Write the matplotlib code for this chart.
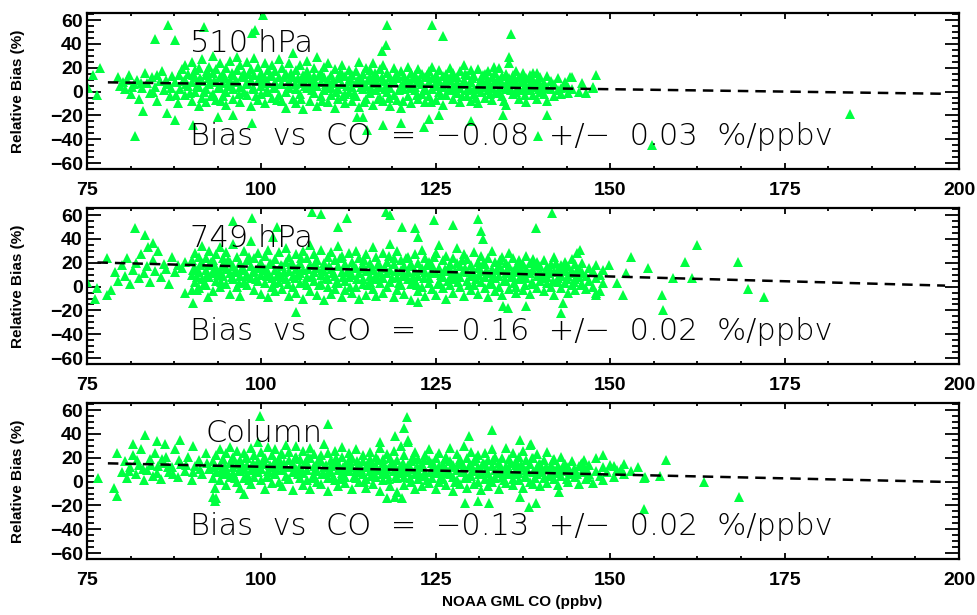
import numpy as np
import matplotlib.pyplot as plt
from matplotlib.ticker import MultipleLocator

# Satellite CO relative bias vs NOAA GML aircraft CO, one panel per level
levels = ['510 hPa', '749 hPa', 'Column']
slopes = [-0.08, -0.16, -0.13]
slope_errs = [0.03, 0.02, 0.02]
intercepts = [14.0, 32.5, 25.5]
fit_start = [78.0, 76.5, 78.0]
fit_end = 198.0

# (CO ppbv, relative bias %) pairs
pts_510 = [
    (75.1, 3), (75.9, 14), (76.4, -3), (76.9, 20), (79.5, 12), (79.8, 5),
    (80.2, 8), (80.5, 2), (81.0, 14), (81.3, -2), (81.8, 6), (82.2, 10),
    (82.5, -6), (82.9, 3), (83.3, 16), (83.6, 7), (84.0, -1), (84.3, 12),
    (84.7, 4), (85.1, -8), (85.4, 9), (85.8, 17), (86.1, 1), (86.5, 6),
    (86.9, -4), (87.2, 13), (87.6, 8), (88.0, -10), (88.3, 2), (88.6, 19),
    (89.0, 10), (89.0, -3), (89.0, 22), (89.5, 5), (89.5, 15),
    (90.0, -8), (90.0, 8), (90.0, 25), (90.5, 0), (90.5, 18), (90.5, 12),
    (91.0, 4), (91.0, -12), (91.0, 20), (91.5, 9), (91.5, 27), (91.5, -5),
    (92.0, 14), (92.0, 2), (92.0, -9), (92.5, 21), (92.5, 6), (92.5, 11),
    (93.0, -2), (93.0, 16), (93.0, 30), (93.5, 8), (93.5, -7), (93.5, 19),
    (94.0, 12), (94.0, 3), (94.0, 24), (94.5, -4), (94.5, 15), (94.5, 7),
    (95.0, 20), (95.0, 0), (95.0, -11), (95.5, 10), (95.5, 26), (95.5, 5),
    (96.0, -6), (96.0, 14), (96.0, 2), (96.5, 18), (96.5, 8), (96.5, 29),
    (97.0, 4), (97.0, -9), (97.0, 22), (97.5, 12), (97.5, 0), (97.5, 16),
    (98.0, 7), (98.0, -3), (98.0, 25), (98.5, 19), (98.5, 10), (98.5, -12),
    (99.0, 2), (99.0, 14), (99.0, 28), (99.5, -7), (99.5, 9), (99.5, 21),
    (100.0, 16), (100.0, 5), (100.0, -2), (100.5, 11), (100.5, 24), (100.5, -10),
    (101.0, 0), (101.0, 18), (101.0, 7), (101.5, 13), (101.5, -5), (101.5, 22),
    (102.0, 8), (102.0, 3), (102.0, 17), (102.5, -3), (102.5, 27), (102.5, 12),
    (103.0, 6), (103.0, -8), (103.0, 20), (103.5, 15), (103.5, 0), (103.5, -14),
    (104.0, 9), (104.0, 24), (104.0, 4), (104.5, -6), (104.5, 12), (104.5, 32),
    (105.0, 18), (105.0, 2), (105.0, -10), (105.5, 7), (105.5, 22), (105.5, -2),
    (106.0, 14), (106.0, -15), (106.0, 10), (106.5, 3), (106.5, 26), (106.5, 17),
    (107.0, -8), (107.0, 11), (107.0, 6), (107.5, 20), (107.5, -1), (107.5, 13),
    (108.0, 5), (108.0, 29), (108.0, -12), (108.5, 16), (108.5, 8), (108.5, -4),
    (109.0, 1), (109.0, 21), (109.0, 12), (109.5, -9), (109.5, 10), (109.5, 24),
    (110.0, 14), (110.0, 4), (110.0, -3), (110.5, 7), (110.5, 19), (110.5, -14),
    (111.0, 11), (111.0, -6), (111.0, 2), (111.5, 22), (111.5, 6), (111.5, 15),
    (112.0, -2), (112.0, 13), (112.0, -10), (112.5, 9), (112.5, 18), (112.5, 0),
    (113.0, 4), (113.0, -8), (113.0, 14), (113.5, 17), (113.5, 7), (113.5, -4),
    (114.0, 11), (114.0, 25), (114.0, -13), (114.5, 2), (114.5, 15), (114.5, 8),
    (115.0, -6), (115.0, 20), (115.0, 5), (115.5, 12), (115.5, -1), (115.5, 18),
    (116.0, 7), (116.0, -11), (116.0, 24), (116.5, 14), (116.5, 1), (116.5, 10),
    (117.0, -5), (117.0, 19), (117.0, 4), (117.5, 9), (117.5, 22), (117.5, -8),
    (118.0, 16), (118.0, 0), (118.0, 6), (118.5, 3), (118.5, 12), (118.5, -12),
    (119.0, 20), (119.0, 8), (119.0, -3), (119.5, 11), (119.5, -7), (119.5, 15),
    (120.0, 5), (120.0, 17), (120.0, -14), (120.5, 13), (120.5, 2), (120.5, 9),
    (121.0, -4), (121.0, 10), (121.0, 21), (121.5, 7), (121.5, -10), (121.5, 16),
    (122.0, 1), (122.0, 14), (122.0, 4), (122.5, 10), (122.5, -6), (122.5, 19),
    (123.0, 6), (123.0, 15), (123.0, -2), (123.5, -9), (123.5, 3), (123.5, 12),
    (124.0, 17), (124.0, 8), (124.0, -4), (124.5, 2), (124.5, 11), (124.5, 21),
    (125.0, -7), (125.0, 6), (125.0, 14), (125.5, 9), (125.5, 18), (125.5, 0),
    (126.0, 4), (126.0, -11), (126.0, 13), (126.5, 15), (126.5, 7), (126.5, -3),
    (127.0, 1), (127.0, 20), (127.0, 10), (127.5, -6), (127.5, 5), (127.5, 16),
    (128.0, 12), (128.0, -1), (128.0, 8), (128.5, 3), (128.5, 17), (128.5, -9),
    (129.0, 10), (129.0, 6), (129.0, 22), (129.5, -4), (129.5, 14), (129.5, 1),
    (130.0, 8), (130.0, -8), (130.0, 18), (130.5, 13), (130.5, 2), (130.5, -2),
    (131.0, 5), (131.0, 19), (131.0, -10), (131.5, 11), (131.5, 0), (131.5, 7),
    (132.0, -5), (132.0, 15), (132.0, 4), (132.5, 9), (132.5, 1), (132.5, 17),
    (133.0, 3), (133.0, 12), (133.0, -7), (133.5, 16), (133.5, 6), (133.5, -1),
    (134.0, 0), (134.0, 10), (134.0, 20), (134.5, 7), (134.5, -4), (134.5, 13),
    (135.0, 2), (135.0, 15), (135.0, -11), (135.5, 11), (135.5, 4), (135.5, 24),
    (136.0, -2), (136.0, 8), (136.0, 14), (136.5, 6), (136.5, 17), (136.5, 0),
    (137.0, 12), (137.0, -6), (137.0, 3), (137.5, 1), (137.5, 9), (137.5, 16),
    (138.0, -9), (138.0, 5), (138.0, 11), (138.5, 14), (138.5, 2), (138.5, 7),
    (139.0, 4), (139.0, -3), (139.0, 10), (139.5, 9), (139.5, 16), (139.5, -6),
    (140.0, 0), (140.0, 6), (140.0, 12), (140.5, 7), (140.5, -2), (140.5, 3),
    (141.0, 13), (141.0, 4), (141.0, -8), (141.5, 2), (141.5, 9),
    (142.0, 6), (142.0, -4), (142.5, 11), (142.5, 1), (143.0, 3), (143.0, -2),
    (143.5, 8), (143.5, 5), (144.0, -1), (144.0, 4), (144.5, 2), (144.5, 12),
    (145.5, 0), (146.0, 7), (146.5, -1), (147.5, 4), (147.9, 14), (147.6, 3),
    # scattered outliers
    (86.6, 56), (91.8, 54), (84.8, 44), (87.6, 43), (99.1, 52), (98.7, 49),
    (100.3, 64), (118.0, 56), (117.8, 39), (117.3, 34), (124.4, 56), (126.0, 47),
    (135.8, 48), (135.5, 29), (133.3, 21), (144.3, 12), (138.9, 16),
    (81.9, -37), (83.0, -16), (86.5, -18), (87.6, -24), (90.2, -28), (93.8, -21),
    (96.0, -20), (98.7, -26), (113.7, -21), (114.5, -21), (115.2, -32),
    (117.5, -28), (120.0, -26), (123.3, -30), (124.0, -23), (125.4, -20),
    (130.0, -25), (134.7, -20), (141.0, -20), (139.7, -37), (156.0, -45),
    (184.4, -19),
]

# extra points filling the dense core of the 510 hPa cloud
core_510 = [
    (80.75, 10), (81.5, 4), (82.7, 7), (84.5, 0), (85.0, 14), (86.3, 10),
    (87.0, 3), (87.8, -3), (88.8, 9), (88.2, 14),
    (89.25, 6), (89.75, -1), (90.25, 14), (90.75, 5), (91.25, 11), (91.75, 0),
    (92.25, 17), (92.75, -4), (93.25, 9), (93.75, 3), (94.25, -8), (94.75, 11),
    (95.25, 5), (95.75, 16), (96.25, 8), (96.75, -2), (97.25, 13), (97.75, 6),
    (98.25, 15), (98.75, 3), (99.25, -4), (99.75, 11), (100.25, 8), (100.75, 1),
    (101.25, 13), (101.75, 4), (102.25, -7), (102.75, 6), (103.25, 12), (103.75, 3),
    (104.25, 16), (104.75, 6), (105.25, 11), (105.75, -6), (106.25, 5), (106.75, 12),
    (107.25, 1), (107.75, 8), (108.25, 14), (108.75, -8), (109.25, 6), (109.75, 3),
    (110.25, 9), (110.75, 0), (111.25, 16), (111.75, -4), (112.25, 5), (112.75, 11),
    (113.25, -2), (113.75, 9), (114.25, 4), (114.75, -9), (115.25, 10), (115.75, 3),
    (116.25, 16), (116.75, -6), (117.25, 12), (117.75, 2), (118.25, -5), (118.75, 9),
    (119.25, 14), (119.75, 1), (120.25, -8), (120.75, 6), (121.25, 3), (121.75, 11),
    (122.25, -3), (122.75, 8), (123.25, 1), (123.75, 14), (124.25, -9), (124.75, 5),
    (125.25, 10), (125.75, -3), (126.25, 8), (126.75, 1), (127.25, 13), (127.75, 2),
    (128.25, 5), (128.75, -4), (129.25, 15), (129.75, 4), (130.25, 11), (130.75, -5),
    (131.25, 2), (131.75, 14), (132.25, 8), (132.75, -2), (133.25, 6), (133.75, 10),
    (134.25, 4), (134.75, -8), (135.25, 8), (135.75, 1), (136.25, 11), (136.75, 4),
    (137.25, 8), (137.75, -3), (138.25, 1), (138.75, 10), (139.25, 6), (139.75, 2),
]

pts_749 = [
    (75.0, 4), (76.1, -10), (76.4, -1), (77.9, -7), (77.9, 24), (78.5, -3),
    (79.0, 12), (79.5, 5), (80.0, 18), (80.4, 9), (80.8, 24), (81.2, 2),
    (81.6, 14), (82.0, 20), (82.4, 7), (82.8, 27), (83.2, 11), (83.6, 17),
    (84.0, 4), (84.4, 22), (84.8, 13), (85.2, 30), (85.6, 8), (86.0, 19),
    (86.4, 15), (86.8, 2), (87.2, 25), (87.6, 12), (88.1, 18), (88.6, 16),
    (89.1, 21), (81.9, 49), (83.3, 43), (84.5, 37), (83.8, 33),
    (90.0, 10), (90.0, 22), (90.0, -3), (90.5, 16), (90.5, 4), (90.5, 28),
    (91.0, 12), (91.0, 25), (91.0, -1), (91.5, 20), (91.5, 6), (91.5, 34),
    (92.0, 14), (92.0, 1), (92.0, 24), (92.5, 8), (92.5, 30), (92.5, 18),
    (93.0, 22), (93.0, -4), (93.0, 11), (93.5, 5), (93.5, 16), (93.5, 27),
    (94.0, 13), (94.0, 33), (94.0, 0), (94.5, 19), (94.5, 9), (94.5, 24),
    (95.0, 2), (95.0, 15), (95.0, 29), (95.5, 11), (95.5, 21), (95.5, -6),
    (96.0, 17), (96.0, 6), (96.0, 36), (96.5, 25), (96.5, 12), (96.5, 0),
    (97.0, 9), (97.0, 20), (97.0, -8), (97.5, 14), (97.5, 30), (97.5, 4),
    (98.0, 22), (98.0, 1), (98.0, 10), (98.5, 7), (98.5, 17), (98.5, 38),
    (99.0, -3), (99.0, 24), (99.0, 13), (99.5, 16), (99.5, 5), (99.5, 28),
    (100.0, 10), (100.0, 20), (100.0, -6), (100.5, 26), (100.5, 3), (100.5, 15),
    (101.0, 12), (101.0, -9), (101.0, 31), (101.5, 19), (101.5, 7), (101.5, 0),
    (102.0, 23), (102.0, 14), (102.0, -4), (102.5, 4), (102.5, 29), (102.5, 11),
    (103.0, 17), (103.0, -2), (103.0, 8), (103.5, 21), (103.5, 6), (103.5, 32),
    (104.0, -8), (104.0, 13), (104.0, 25), (104.5, 9), (104.5, 0), (104.5, 18),
    (105.0, 27), (105.0, 15), (105.0, -5), (105.5, 3), (105.5, 20), (105.5, 11),
    (106.0, 14), (106.0, -10), (106.0, 30), (106.5, 8), (106.5, 24), (106.5, 1),
    (107.0, 18), (107.0, -4), (107.0, 35), (107.5, 12), (107.5, 27), (107.5, 5),
    (108.0, -7), (108.0, 16), (108.0, 22), (108.5, 10), (108.5, 2), (108.5, 31),
    (109.0, 20), (109.0, -11), (109.0, 13), (109.5, 6), (109.5, 25), (109.5, 0),
    (110.0, 15), (110.0, -6), (110.0, 29), (110.5, 22), (110.5, 9), (110.5, -2),
    (111.0, 3), (111.0, 17), (111.0, 34), (111.5, 12), (111.5, -9), (111.5, 26),
    (112.0, 19), (112.0, 5), (112.0, -3), (112.5, 8), (112.5, 28), (112.5, 14),
    (113.0, -5), (113.0, 21), (113.0, 10), (113.5, 16), (113.5, 0), (113.5, 30),
    (114.0, 24), (114.0, 11), (114.0, -10), (114.5, 6), (114.5, 18), (114.5, 2),
    (115.0, 13), (115.0, -7), (115.0, 27), (115.5, 20), (115.5, 4), (115.5, 9),
    (116.0, -2), (116.0, 15), (116.0, 33), (116.5, 10), (116.5, 25), (116.5, -8),
    (117.0, 17), (117.0, 3), (117.0, 12), (117.5, 28), (117.5, -5), (117.5, 7),
    (118.0, 11), (118.0, 21), (118.0, 0), (118.5, 4), (118.5, 14), (118.5, 36),
    (119.0, 19), (119.0, -9), (119.0, 24), (119.5, 8), (119.5, 30), (119.5, -3),
    (120.0, 14), (120.0, 1), (120.0, 22), (120.5, -6), (120.5, 17), (120.5, 9),
    (121.0, 25), (121.0, 6), (121.0, 12), (121.5, 2), (121.5, 19), (121.5, -11),
    (122.0, 13), (122.0, 27), (122.0, 5), (122.5, 9), (122.5, -4), (122.5, 20),
    (123.0, 16), (123.0, 0), (123.0, 31), (123.5, -8), (123.5, 12), (123.5, 24),
    (124.0, 7), (124.0, 21), (124.0, 3), (124.5, 18), (124.5, -2), (124.5, 14),
    (125.0, 11), (125.0, 28), (125.0, -7), (125.5, 4), (125.5, 16), (125.5, 35),
    (126.0, 22), (126.0, 8), (126.0, -1), (126.5, -10), (126.5, 13), (126.5, 26),
    (127.0, 15), (127.0, 1), (127.0, 19), (127.5, 6), (127.5, 24), (127.5, -5),
    (128.0, 20), (128.0, 10), (128.0, 32), (128.5, 0), (128.5, 17), (128.5, 8),
    (129.0, 13), (129.0, -8), (129.0, 27), (129.5, 23), (129.5, 5), (129.5, 12),
    (130.0, -3), (130.0, 18), (130.0, 9), (130.5, 10), (130.5, 29), (130.5, 1),
    (131.0, 16), (131.0, -6), (131.0, 21), (131.5, 4), (131.5, 13), (131.5, 26),
    (132.0, 19), (132.0, -1), (132.0, 8), (132.5, 11), (132.5, 24), (132.5, -9),
    (133.0, 2), (133.0, 15), (133.0, 30), (133.5, 21), (133.5, 7), (133.5, -4),
    (134.0, 9), (134.0, 18), (134.0, 0), (134.5, 14), (134.5, -7), (134.5, 25),
    (135.0, 5), (135.0, 20), (135.0, 11), (135.5, 17), (135.5, -2), (135.5, 28),
    (136.0, 24), (136.0, 8), (136.0, 13), (136.5, 0), (136.5, 16), (136.5, -5),
    (137.0, 12), (137.0, 22), (137.0, 6), (137.5, 19), (137.5, -3), (137.5, 9),
    (138.0, 7), (138.0, 26), (138.0, 15), (138.5, -6), (138.5, 11), (138.5, 20),
    (139.0, 14), (139.0, 2), (139.0, 23), (139.5, 21), (139.5, 9), (139.5, -1),
    (140.0, 5), (140.0, 17), (140.0, 12), (140.5, 10), (140.5, 22), (140.5, -4),
    (141.0, 16), (141.0, 3), (141.0, 8), (141.5, 0), (141.5, 19), (141.5, 13),
    (142.0, 12), (142.0, 25), (142.0, -7), (142.5, 7), (142.5, 15), (142.5, 4),
    (143.0, 18), (143.0, -1), (143.0, 10), (143.5, 3), (143.5, 21), (143.5, 14),
    (144.0, 9), (144.0, -5), (144.0, 17), (144.5, 13), (144.5, 1), (144.5, 23),
    (145.0, 6), (145.0, 19), (145.0, -3), (145.5, 15), (145.5, 8), (145.5, 11),
    (146.0, 2), (146.0, 12), (146.0, 20), (146.5, 9), (146.5, -2),
    (147.0, 16), (147.0, 5), (147.5, 0), (147.5, 13), (148.0, 7), (148.0, 18),
    (148.5, -4), (148.5, 10), (149.0, 3), (149.0, 14),
    # scattered outliers
    (89.1, -5), (90.8, -3), (92.4, -9), (90.2, -14), (96.0, 55), (98.7, 58),
    (101.7, 42), (102.3, 50), (104.9, -21), (107.3, 63), (108.5, 61),
    (111.0, 50), (112.3, 58), (117.8, 63), (118.5, 60), (120.2, 50), (122.0, 49),
    (122.5, 42), (124.7, 56), (127.4, 52), (131.1, 57), (131.5, 47), (131.8, 40),
    (139.3, 49), (141.6, 62), (145.7, 31), (145.3, 28), (122.5, -13),
    (134.7, -16), (135.3, -18), (137.9, -16), (143.2, -14), (142.9, -22),
    (147.9, -5), (147.9, -7),
    (149.8, 18), (153.0, 25), (152.2, 11), (151.0, 3), (151.8, -7), (155.4, 16),
    (157.4, -7), (157.5, -20), (159.0, 7), (160.7, 21), (161.7, 7), (162.5, 35),
    (168.3, 21), (169.7, -2), (172.0, -9),
]

core_749 = [
    (90.25, 14), (90.75, 8), (91.25, 18), (91.75, 2), (92.25, 10), (92.75, 21),
    (93.25, 15), (93.75, 10), (94.25, 4), (94.75, 17), (95.25, 22), (95.75, 8),
    (96.25, 13), (96.75, 3), (97.25, 16), (97.75, 9), (98.25, 25), (98.75, 12),
    (99.25, 6), (99.75, 19), (100.25, 14), (100.75, 9), (101.25, 20), (101.75, 3),
    (102.25, 9), (102.75, 18), (103.25, 12), (103.75, 2), (104.25, 19), (104.75, 7),
    (105.25, 10), (105.75, 24), (106.25, 4), (106.75, 15), (107.25, 9), (107.75, 20),
    (108.25, 1), (108.75, 14), (109.25, 7), (109.75, 17), (110.25, 11), (110.75, 3),
    (111.25, 24), (111.75, 8), (112.25, 12), (112.75, 0), (113.25, 17), (113.75, 6),
    (114.25, 16), (114.75, 22), (115.25, 1), (115.75, 14), (116.25, 6), (116.75, 19),
    (117.25, 8), (117.75, 16), (118.25, 26), (118.75, 7), (119.25, 13), (119.75, 3),
    (120.25, 10), (120.75, 24), (121.25, 17), (121.75, 8), (122.25, 1), (122.75, 14),
    (123.25, 7), (123.75, 18), (124.25, 11), (124.75, 25), (125.25, 2), (125.75, 10),
    (126.25, 15), (126.75, 5), (127.25, 9), (127.75, 13), (128.25, 4), (128.75, 22),
    (129.25, 16), (129.75, 1), (130.25, 14), (130.75, 6), (131.25, 10), (131.75, 19),
    (132.25, 13), (132.75, 3), (133.25, 9), (133.75, 14), (134.25, 22), (134.75, 5),
    (135.25, 14), (135.75, 8), (136.25, 3), (136.75, 20), (137.25, 15), (137.75, 1),
    (138.25, 11), (138.75, 4), (139.25, 18), (139.75, 13), (140.25, 7), (140.75, 15),
    (141.25, 11), (141.75, 5), (142.25, 20), (142.75, 9), (143.25, 13), (143.75, 6),
    (144.25, 11), (144.75, 4), (145.25, 14), (145.75, 1),
]

pts_col = [
    (76.6, 3), (79.3, 24), (78.9, -5), (79.3, -12),
    (80.0, 8), (80.4, 17), (80.8, 3), (81.2, 12), (81.6, 22), (82.0, 6),
    (82.4, 14), (82.8, 27), (83.2, 1), (83.6, 10), (84.0, 19), (84.4, 5),
    (84.8, 24), (85.2, 13), (85.6, 2), (86.0, 16), (86.4, 21), (86.8, 8),
    (87.2, 12), (87.6, 27), (88.0, 4), (88.5, 15), (89.0, 9), (89.5, 21),
    (90.0, 1), (90.5, 13), (91.0, 18), (91.5, 6), (92.0, 24), (92.5, 11),
    (93.0, 3), (93.0, 17), (93.5, 8), (93.5, 22),
    (94.0, 14), (94.0, 1), (94.0, 27), (94.5, 19), (94.5, 6),
    (95.0, 10), (95.0, -3), (95.0, 24), (95.5, 16), (95.5, 4), (95.5, 29),
    (96.0, 7), (96.0, 21), (96.0, 12), (96.5, 0), (96.5, 15), (96.5, 26),
    (97.0, 18), (97.0, 9), (97.0, -5), (97.5, 11), (97.5, 24), (97.5, 3),
    (98.0, 20), (98.0, 6), (98.0, 14), (98.5, -2), (98.5, 28), (98.5, 10),
    (99.0, 13), (99.0, 4), (99.0, 22), (99.5, 17), (99.5, 8), (99.5, 33),
    (100.0, 1), (100.0, 25), (100.0, 11), (100.5, 15), (100.5, -6), (100.5, 20),
    (101.0, 9), (101.0, 29), (101.0, 4), (101.5, 22), (101.5, 12), (101.5, -1),
    (102.0, 6), (102.0, 17), (102.0, 27), (102.5, 14), (102.5, 0), (102.5, 19),
    (103.0, -4), (103.0, 23), (103.0, 10), (103.5, 12), (103.5, 31), (103.5, 5),
    (104.0, 18), (104.0, 2), (104.0, 25), (104.5, 8), (104.5, 15), (104.5, -7),
    (105.0, 21), (105.0, 11), (105.0, 30), (105.5, 3), (105.5, 19), (105.5, 13),
    (106.0, 26), (106.0, 7), (106.0, -3), (106.5, 10), (106.5, 16), (106.5, 1),
    (107.0, 20), (107.0, -6), (107.0, 28), (107.5, 5), (107.5, 13), (107.5, 23),
    (108.0, 15), (108.0, 0), (108.0, 9), (108.5, -2), (108.5, 22), (108.5, 17),
    (109.0, 12), (109.0, 32), (109.0, 6), (109.5, 24), (109.5, 3), (109.5, -8),
    (110.0, 8), (110.0, 18), (110.0, 13), (110.5, 1), (110.5, 26), (110.5, 15),
    (111.0, 16), (111.0, -4), (111.0, 10), (111.5, 21), (111.5, 7), (111.5, 29),
    (112.0, 4), (112.0, 14), (112.0, -1), (112.5, 18), (112.5, 9), (112.5, 24),
    (113.0, -6), (113.0, 12), (113.0, 20), (113.5, 10), (113.5, 27), (113.5, 3),
    (114.0, 15), (114.0, 0), (114.0, 8), (114.5, 22), (114.5, 6), (114.5, 17),
    (115.0, 2), (115.0, 12), (115.0, -5), (115.5, 19), (115.5, 25), (115.5, 9),
    (116.0, 7), (116.0, -2), (116.0, 14), (116.5, 13), (116.5, 21), (116.5, 4),
    (117.0, -8), (117.0, 10), (117.0, 28), (117.5, 16), (117.5, 1), (117.5, 19),
    (118.0, 6), (118.0, 23), (118.0, 11), (118.5, 20), (118.5, -4), (118.5, 13),
    (119.0, 9), (119.0, 15), (119.0, 26), (119.5, 3), (119.5, 18), (119.5, -9),
    (120.0, 12), (120.0, 30), (120.0, 7), (120.5, 22), (120.5, 4), (120.5, -3),
    (121.0, 14), (121.0, 8), (121.0, 33), (121.5, 0), (121.5, 17), (121.5, 11),
    (122.0, 25), (122.0, 6), (122.0, -6), (122.5, 9), (122.5, 19), (122.5, 2),
    (123.0, 15), (123.0, -4), (123.0, 12), (123.5, 5), (123.5, 22), (123.5, 8),
    (124.0, 18), (124.0, -1), (124.0, 27), (124.5, 11), (124.5, 3), (124.5, 16),
    (125.0, -6), (125.0, 20), (125.0, 7), (125.5, 13), (125.5, 0), (125.5, 24),
    (126.0, 2), (126.0, 15), (126.0, 9), (126.5, 21), (126.5, -3), (126.5, 11),
    (127.0, 6), (127.0, 17), (127.0, 28), (127.5, 14), (127.5, -8), (127.5, 4),
    (128.0, 10), (128.0, 23), (128.0, 1), (128.5, -2), (128.5, 16), (128.5, 19),
    (129.0, 8), (129.0, 12), (129.0, 30), (129.5, 20), (129.5, 3), (129.5, -5),
    (130.0, 5), (130.0, 14), (130.0, 25), (130.5, 17), (130.5, -2), (130.5, 9),
    (131.0, 0), (131.0, 22), (131.0, 12), (131.5, 11), (131.5, 6), (131.5, -7),
    (132.0, 24), (132.0, 15), (132.0, 2), (132.5, 7), (132.5, -4), (132.5, 18),
    (133.0, 13), (133.0, 27), (133.0, 0), (133.5, 3), (133.5, 10), (133.5, 21),
    (134.0, 16), (134.0, -6), (134.0, 8), (134.5, 9), (134.5, 20), (134.5, 4),
    (135.0, -1), (135.0, 13), (135.0, 28), (135.5, 19), (135.5, 6), (135.5, 11),
    (136.0, 2), (136.0, 24), (136.0, -3), (136.5, 14), (136.5, 9), (136.5, 17),
    (137.0, 7), (137.0, 21), (137.0, 1), (137.5, 26), (137.5, -5), (137.5, 12),
    (138.0, 10), (138.0, 4), (138.0, 18), (138.5, 0), (138.5, 15), (138.5, 31),
    (139.0, 20), (139.0, 8), (139.0, -2), (139.5, 6), (139.5, 12), (139.5, 23),
    (140.0, 15), (140.0, -4), (140.0, 9), (140.5, 3), (140.5, 18),
    (141.0, 11), (141.0, 25), (141.0, -1), (141.5, 7), (141.5, 14),
    (142.0, 19), (142.0, 2), (142.0, 10), (142.5, 13), (142.5, -3),
    (143.0, 5), (143.0, 21), (143.5, 9), (143.5, 15), (144.0, 0), (144.0, 12),
    (144.5, 17), (144.5, 6), (145.0, 4), (145.0, 10), (145.5, 13), (145.5, -2),
    (146.0, 8), (146.0, 16), (146.5, 2), (146.5, 11), (147.0, 14), (147.0, 6),
    (147.5, -1), (148.0, 9), (148.0, 20), (148.5, 5), (149.0, 12), (149.0, 1),
    (149.5, 8), (150.0, 14), (150.5, 4), (151.0, 10), (152.0, 15), (152.0, 6),
    (153.0, 9), (154.0, 12), (155.0, 4),
    # scattered outliers
    (93.0, -13), (93.4, -16), (93.4, -5), (93.5, -14), (97.5, -10), (99.8, 55),
    (83.3, 39), (81.6, 32), (88.3, 35), (85.0, 34), (86.2, 32), (90.2, 30),
    (109.6, 48), (120.9, 54), (120.4, 45), (121.0, 35), (117.0, 33), (119.2, 38),
    (118.0, -14), (119.2, -13), (120.2, -14), (129.7, 38), (133.1, 43),
    (137.1, 35), (138.6, 32), (129.2, -18), (131.1, -16), (132.6, -18),
    (137.1, -13), (138.3, -21), (139.3, -18), (142.6, -9), (146.2, 18),
    (149.0, 22), (150.5, 13), (151.5, 11), (154.8, 3), (157.2, 5), (158.0, 18),
    (163.4, 0), (168.4, -13), (154.8, -23),
]

core_col = [
    (81.0, 9), (82.2, 18), (83.0, 11), (84.2, 14), (85.0, 7), (85.8, 19),
    (86.6, 12), (87.4, 6), (88.2, 18), (89.2, 14), (90.2, 8), (91.2, 11),
    (92.2, 16), (93.2, 12),
    (94.25, 10), (94.75, 13), (95.25, 6), (95.75, 19), (96.25, 3), (96.75, 9),
    (97.25, 14), (97.75, 20), (98.25, 1), (98.75, 16), (99.25, 8), (99.75, 12),
    (100.25, 18), (100.75, 5), (101.25, 14), (101.75, 8), (102.25, 10), (102.75, 23),
    (103.25, 16), (103.75, 2), (104.25, 12), (104.75, 20), (105.25, 6), (105.75, 9),
    (106.25, 16), (106.75, 21), (107.25, 3), (107.75, 10), (108.25, 19), (108.75, 6),
    (109.25, 14), (109.75, 9), (110.25, 4), (110.75, 20), (111.25, 2), (111.75, 12),
    (112.25, 9), (112.75, 15), (113.25, 4), (113.75, 17), (114.25, 11), (114.75, 0),
    (115.25, 16), (115.75, 5), (116.25, 10), (116.75, 18), (117.25, 6), (117.75, 12),
    (118.25, 2), (118.75, 16), (119.25, 5), (119.75, 11), (120.25, 16), (120.75, 10),
    (121.25, 3), (121.75, 21), (122.25, 13), (122.75, 5), (123.25, 18), (123.75, 1),
    (124.25, 8), (124.75, 14), (125.25, 10), (125.75, 4), (126.25, 19), (126.75, 7),
    (127.25, 12), (127.75, 0), (128.25, 15), (128.75, 8), (129.25, 3), (129.75, 13),
    (130.25, 9), (130.75, 20), (131.25, 6), (131.75, 16), (132.25, 10), (132.75, 3),
    (133.25, 18), (133.75, 7), (134.25, 12), (134.75, 1), (135.25, 8), (135.75, 16),
    (136.25, 6), (136.75, 11), (137.25, 14), (137.75, 4), (138.25, 9), (138.75, 20),
    (139.25, 3), (139.75, 15), (140.25, 8), (140.75, 12), (141.25, 5), (141.75, 18),
    (142.25, 7), (142.75, 10), (143.25, 13), (143.75, 2), (144.25, 8), (144.75, 11),
    (145.25, 6), (145.75, 15), (146.25, 9), (146.75, 4),
]

all_points = [pts_510 + core_510, pts_749 + core_749, pts_col + core_col]

green = '#00ff40'
text_font = ['DejaVu Sans']
tick_font = 'Liberation Sans'

fig = plt.figure(figsize=(9.77, 6.15), dpi=100)
panel_tops = [0.9789, 0.6618, 0.3447]
panel_h = 0.2537

for i, pts in enumerate(all_points):
    ax = fig.add_axes([0.089, panel_tops[i] - panel_h, 0.8926, panel_h])
    co, bias = np.array(pts, dtype=float).T

    ax.plot(co, bias, linestyle='none', marker='^', markersize=7.5,
            color=green, markeredgewidth=0, zorder=2)

    # linear fit of bias against CO
    xf = np.array([fit_start[i], fit_end])
    ax.plot(xf, intercepts[i] + slopes[i] * xf, color='black', lw=1.8,
            dashes=(4.2, 2.8), zorder=3)

    ax.text(92.0 if levels[i] == 'Column' else 89.8, 33, levels[i],
            fontsize=22, family=text_font, fontweight=200, color='black',
            zorder=4)
    fit_label = 'Bias  vs  CO  =  \u2212%.2f  +/\u2212  %.2f  %%/ppbv' % (
        abs(slopes[i]), slope_errs[i])
    ax.text(89.8, -45, fit_label, fontsize=22, family=text_font,
            fontweight=200, color='black', zorder=4)

    ax.set_xlim(75, 200)
    ax.set_ylim(-65, 66)
    ax.xaxis.set_major_locator(MultipleLocator(25))
    ax.xaxis.set_minor_locator(MultipleLocator(6.25))
    ax.yaxis.set_major_locator(MultipleLocator(20))
    ax.yaxis.set_minor_locator(MultipleLocator(5))
    ax.tick_params(axis='both', which='both', direction='in',
                   top=True, right=True, width=1.3)
    ax.tick_params(axis='x', which='major', length=4.5, pad=9)
    ax.tick_params(axis='x', which='minor', length=2.5)
    ax.tick_params(axis='y', which='major', length=10, pad=3)
    ax.tick_params(axis='y', which='minor', length=5)
    ax.set_yticklabels([f'{int(v)}'.replace('-', '\u2212') for v in ax.get_yticks()])
    for lab in ax.get_xticklabels() + ax.get_yticklabels():
        lab.set_fontfamily(tick_font)
        lab.set_fontweight('bold')
        lab.set_fontsize(14)
    for sp in ax.spines.values():
        sp.set_linewidth(1.6)

    fig.text(0.018, panel_tops[i] - panel_h / 2, 'Relative Bias (%)',
             rotation=90, ha='center', va='center', fontsize=11,
             fontweight='bold', family=tick_font)

fig.text(0.534, 0.021, 'NOAA GML CO (ppbv)', ha='center', va='center',
         fontsize=11, fontweight='bold', family=tick_font)

fig.savefig('out.png', dpi=100)
